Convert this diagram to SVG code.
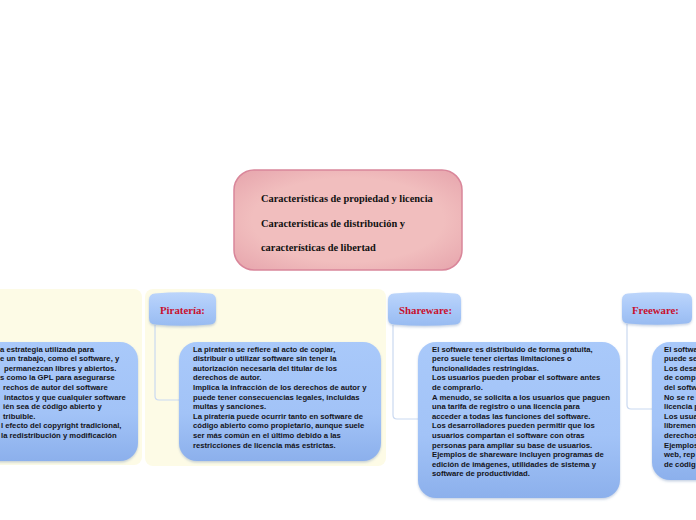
<svg xmlns="http://www.w3.org/2000/svg" width="696" height="520" viewBox="0 0 696 520">
<defs>
<radialGradient id="pink" cx="50%" cy="50%" r="70%">
<stop offset="0.6" stop-color="#f1bebe"/>
<stop offset="1" stop-color="#e6a4ac"/>
</radialGradient>
<linearGradient id="hdr" x1="0" y1="0" x2="0" y2="1">
<stop offset="0" stop-color="#bcd5fb"/>
<stop offset="0.5" stop-color="#a9c8f8"/>
<stop offset="1" stop-color="#98bbf1"/>
</linearGradient>
<linearGradient id="body" x1="0" y1="0" x2="0" y2="1">
<stop offset="0" stop-color="#a9c9fa"/>
<stop offset="0.6" stop-color="#a2c3f7"/>
<stop offset="1" stop-color="#8cb0ec"/>
</linearGradient>
<filter id="sh" x="-10%" y="-10%" width="120%" height="130%">
<feDropShadow dx="0" dy="1.5" stdDeviation="1.2" flood-color="#6080b0" flood-opacity="0.35"/>
</filter>
</defs>
<style>
.panel{fill:#fdfbe6}
.hdr{fill:url(#hdr);filter:url(#sh)}
.body{fill:url(#body);filter:url(#sh)}
.ht{font-family:"Liberation Serif",serif;font-weight:bold;font-size:10.8px;fill:#c8102e}
.bt{font-family:"Liberation Sans",Arial,sans-serif;font-weight:bold;font-size:7.7px;fill:#141420}
.ct{font-family:"Liberation Serif",serif;font-weight:bold;font-size:10.4px;fill:#111}
.con{fill:none;stroke:#cad9f1;stroke-width:1.2}
</style>

<rect class="panel" x="-20" y="289" width="162" height="176" rx="8"/>
<rect class="panel" x="145" y="289" width="241" height="177" rx="8"/>

<g id="connectors">
<path class="con" d="M155,325 V396 Q155,400 159,400 H180"/>
<path class="con" d="M393,325 V415 Q393,419 397,419 H419"/>
<path class="con" d="M627,324 V405 Q627,409 631,409 H653"/>
</g>

<g id="center">
<rect x="234" y="170" width="228" height="100" rx="20" fill="url(#pink)" stroke="#d9869a" stroke-width="1.5"/>
<text class="ct" x="261" y="202">Características de propiedad y licencia</text>
<text class="ct" x="261" y="227">Características de distribución y</text>
<text class="ct" x="261" y="251">características de libertad</text>
</g>

<g id="left-body">
<rect class="body" x="-40" y="342" width="178" height="119" rx="18"/>
<text class="bt" x="0" y="351.5">a estrategia utilizada para</text>
<text class="bt" x="0" y="361.1">e un trabajo, como el software, y</text>
<text class="bt" x="4" y="370.7">permanezcan libres y abiertos.</text>
<text class="bt" x="0" y="380.3">s como la GPL para asegurarse</text>
<text class="bt" x="3" y="389.9">rechos de autor del software</text>
<text class="bt" x="4" y="399.5">intactos y que cualquier software</text>
<text class="bt" x="3" y="409.1">ién sea de código abierto y</text>
<text class="bt" x="3" y="418.7">tribuible.</text>
<text class="bt" x="1" y="428.3">l efecto del copyright tradicional,</text>
<text class="bt" x="1" y="437.9">la redistribución y modificación</text>
</g>

<g id="pirateria">
<path class="hdr" d="M149,300 Q149,294 155,293.5 Q182,291 210,293.5 Q216,294 216,300 V318 Q216,324 210,324.5 Q182,327 155,324.5 Q149,324 149,318 Z"/>
<text class="ht" x="160" y="314">Piratería:</text>
</g>
<g id="pirateria-body">
<rect class="body" x="179" y="342" width="202" height="119" rx="18"/>
<text class="bt" x="193" y="351.5">La piratería se refiere al acto de copiar,</text>
<text class="bt" x="193" y="361.1">distribuir o utilizar software sin tener la</text>
<text class="bt" x="193" y="370.7">autorización necesaria del titular de los</text>
<text class="bt" x="193" y="380.3">derechos de autor.</text>
<text class="bt" x="193" y="389.9">Implica la infracción de los derechos de autor y</text>
<text class="bt" x="193" y="399.5">puede tener consecuencias legales, incluidas</text>
<text class="bt" x="193" y="409.1">multas y sanciones.</text>
<text class="bt" x="193" y="418.7">La piratería puede ocurrir tanto en software de</text>
<text class="bt" x="193" y="428.3">código abierto como propietario, aunque suele</text>
<text class="bt" x="193" y="437.9">ser más común en el último debido a las</text>
<text class="bt" x="193" y="447.5">restricciones de licencia más estrictas.</text>
</g>

<g id="shareware">
<path class="hdr" d="M388,300 Q388,294 394,293.5 Q424,291 455,293.5 Q461,294 461,300 V318 Q461,324 455,324.5 Q424,327 394,324.5 Q388,324 388,318 Z"/>
<text class="ht" x="399" y="314">Shareware:</text>
</g>
<g id="shareware-body">
<rect class="body" x="418" y="342" width="202" height="156" rx="18"/>
<text class="bt" x="432" y="351.5">El software es distribuido de forma gratuita,</text>
<text class="bt" x="432" y="361.1">pero suele tener ciertas limitaciones o</text>
<text class="bt" x="432" y="370.7">funcionalidades restringidas.</text>
<text class="bt" x="432" y="380.3">Los usuarios pueden probar el software antes</text>
<text class="bt" x="432" y="389.9">de comprarlo.</text>
<text class="bt" x="432" y="399.5">A menudo, se solicita a los usuarios que paguen</text>
<text class="bt" x="432" y="409.1">una tarifa de registro o una licencia para</text>
<text class="bt" x="432" y="418.7">acceder a todas las funciones del software.</text>
<text class="bt" x="432" y="428.3">Los desarrolladores pueden permitir que los</text>
<text class="bt" x="432" y="437.9">usuarios compartan el software con otras</text>
<text class="bt" x="432" y="447.5">personas para ampliar su base de usuarios.</text>
<text class="bt" x="432" y="457.1">Ejemplos de shareware incluyen programas de</text>
<text class="bt" x="432" y="466.7">edición de imágenes, utilidades de sistema y</text>
<text class="bt" x="432" y="476.3">software de productividad.</text>
</g>

<g id="freeware">
<path class="hdr" d="M622,300 Q622,294 628,293.5 Q657,291 686,293.5 Q692,294 692,300 V317 Q692,323 686,323.5 Q657,326 628,323.5 Q622,323 622,317 Z"/>
<text class="ht" x="632" y="314">Freeware:</text>
</g>
<g id="freeware-body">
<rect class="body" x="652" y="342" width="80" height="138" rx="18"/>
<text class="bt" x="664" y="351.5">El softwa</text>
<text class="bt" x="664" y="361.1">puede se</text>
<text class="bt" x="664" y="370.7">Los desa</text>
<text class="bt" x="664" y="380.3">de comp</text>
<text class="bt" x="664" y="389.9">del softw</text>
<text class="bt" x="664" y="399.5">No se re</text>
<text class="bt" x="664" y="409.1">licencia p</text>
<text class="bt" x="664" y="418.7">Los usua</text>
<text class="bt" x="664" y="428.3">libremen</text>
<text class="bt" x="664" y="437.9">derechos</text>
<text class="bt" x="664" y="447.5">Ejemplos</text>
<text class="bt" x="664" y="457.1">web, rep</text>
<text class="bt" x="664" y="466.7">de códig</text>
</g>
</svg>
